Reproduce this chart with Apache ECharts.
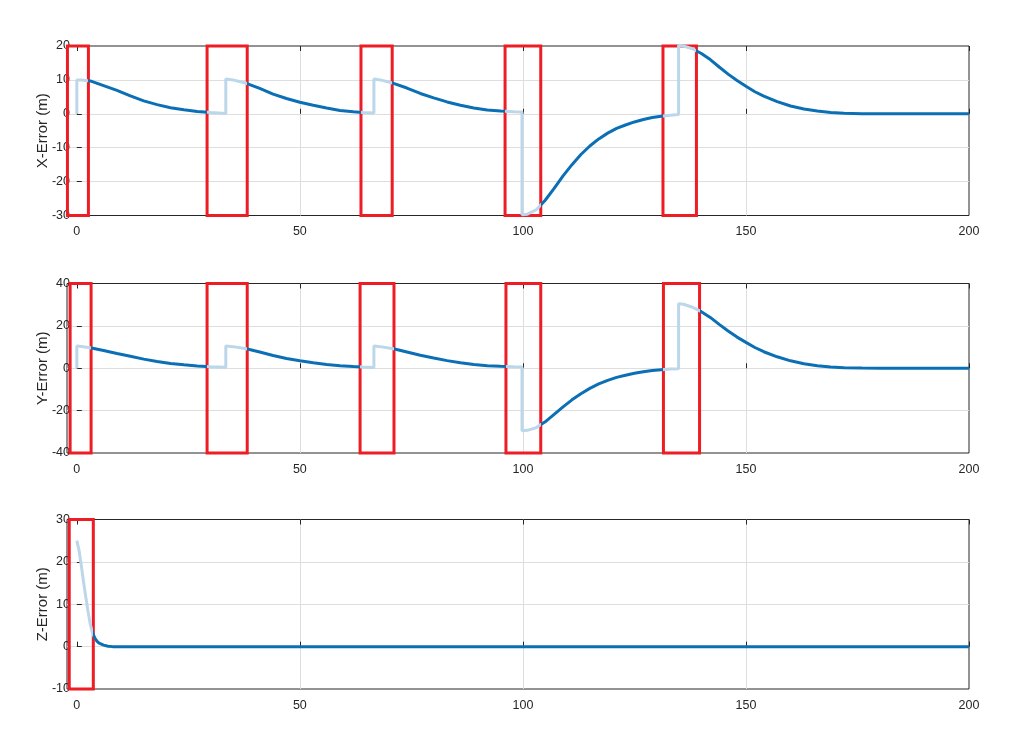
<!DOCTYPE html>
<html>
<head>
<meta charset="utf-8">
<script src="https://cdn.jsdelivr.net/npm/echarts@6/dist/echarts.min.js"></script>
<style>
  html, body { margin: 0; padding: 0; background: #fff; }
  #main { width: 1021px; height: 735px; }
</style>
</head>
<body>
<div id="main"></div>
<script>
// time samples shared by the X and Y error traces (s)
var timeXY = [0, 0, 1, 3, 6, 9, 12, 15, 18, 21, 24, 27, 30, 33.4,
  33.4, 35, 38, 41, 44, 47, 50, 53, 56, 59, 62, 64, 66.6,
  66.6, 68, 71, 74, 77, 80, 83, 86, 89, 92, 95, 98, 99.8,
  99.8, 101, 103, 105, 107, 109, 111, 113, 115, 117, 119, 121, 123, 125, 127, 129, 131, 133, 134.9,
  134.9, 136, 138, 140, 142, 144, 146, 148, 150, 152, 154, 157, 160, 163, 166, 169, 172, 176, 180, 200];

var errX = [0, 10, 10, 9.7, 8.3, 6.9, 5.3, 3.8, 2.7, 1.8, 1.2, 0.7, 0.35, 0.1,
  10.3, 10, 9, 7.5, 5.8, 4.5, 3.4, 2.5, 1.7, 1, 0.6, 0.4, 0.2,
  10.3, 10, 9, 7.6, 6, 4.7, 3.5, 2.5, 1.7, 1.1, 0.8, 0.6, 0.5,
  -29.8, -29.6, -28.3, -25.5, -22, -18.3, -15, -12, -9.5, -7.4, -5.7, -4.3, -3.3, -2.4, -1.7, -1.1, -0.7, -0.4, -0.2,
  20.2, 20, 19.2, 17.8, 16, 13.8, 11.7, 9.8, 8.1, 6.5, 5.2, 3.6, 2.3, 1.4, 0.8, 0.4, 0.15, 0.05, 0, 0];

var errY = [0, 10.5, 10.3, 9.7, 8.4, 7, 5.7, 4.3, 3.2, 2.2, 1.6, 1.1, 0.7, 0.5,
  10.5, 10.2, 9.2, 7.7, 6, 4.6, 3.5, 2.6, 1.8, 1.2, 0.8, 0.6, 0.4,
  10.5, 10.2, 9.2, 7.7, 6.1, 4.8, 3.6, 2.6, 1.8, 1.2, 0.9, 0.7, 0.6,
  -29.5, -29.3, -28, -25.3, -21.8, -18.2, -14.9, -12, -9.5, -7.4, -5.7, -4.3, -3.3, -2.4, -1.7, -1.1, -0.7, -0.4, -0.2,
  30.4, 30.2, 28.8, 26.7, 24, 20.7, 17.6, 14.7, 12.2, 9.8, 7.8, 5.4, 3.5, 2.1, 1.2, 0.6, 0.25, 0.1, 0, 0];

var timeZ = [0, 0.5, 1, 1.5, 2, 2.5, 3, 3.5, 4, 4.5, 5, 6, 7, 8, 10, 200];
var errZ = [25, 22.7, 19.2, 15.3, 11.8, 8.4, 5.4, 3.3, 2.1, 1.3, 0.8, 0.35, 0.1, 0, 0, 0];

// red highlight boxes, [start, end] in seconds, per panel
var boxesX = [[-2.1, 2.6], [29.2, 38.2], [63.7, 70.7], [96.0, 104.0], [131.4, 138.9]];
var boxesY = [[-1.5, 3.2], [29.2, 38.2], [63.5, 71.1], [96.2, 104.0], [131.5, 139.6]];
var boxesZ = [[-1.7, 3.7]];

var xTicks = [0, 50, 100, 150, 200];
var names = ['X-Error (m)', 'Y-Error (m)', 'Z-Error (m)'];
var yRanges = [[-30, 20, 10], [-40, 40, 20], [-10, 30, 10]];

var dark = '#0b6fb5';
var light = '#bcd6ea';
var txt = '#262626';
var font = 'Liberation Sans';

var myChart = echarts.init(document.getElementById('main'));

function pairs(t, v) {
    return t.map(function (x, i) { return [x, v[i]]; });
}

function pieces(boxes) {
    var out = [];
    boxes.forEach(function (b, i) {
        out.push({ gte: b[0], lte: b[1], color: light });
        var next = i + 1 < boxes.length ? boxes[i + 1][0] : null;
        if (next === null) out.push({ gt: b[1], color: dark });
        else out.push({ gt: b[1], lt: next, color: dark });
    });
    return out;
}

var tops = [46, 283.5, 519.5];
var grids = [], xAxes = [], yAxes = [], series = [], maps = [];
var allBoxes = [boxesX, boxesY, boxesZ];
var allData = [pairs(timeXY, errX), pairs(timeXY, errY), pairs(timeZ, errZ)];

for (var i = 0; i < 3; i++) {
    grids.push({
        left: 67, right: 52, top: tops[i], height: 169.5,
        show: true, borderColor: txt, borderWidth: 1, backgroundColor: 'transparent'
    });
    // bottom axis with labels
    xAxes.push({
        type: 'value', gridIndex: i, min: -2.2, max: 200, position: 'bottom',
        axisLine: { show: false },
        axisTick: { inside: true, length: 5, customValues: xTicks, lineStyle: { color: txt } },
        axisLabel: { customValues: xTicks, color: txt, fontFamily: font, fontSize: 12.5, margin: 10 },
        splitLine: { show: true, showMinLine: false, showMaxLine: false, lineStyle: { color: '#dedede', width: 1 } }
    });
    // top axis, ticks only
    xAxes.push({
        type: 'value', gridIndex: i, min: -2.2, max: 200, position: 'top',
        axisLine: { show: false },
        axisTick: { inside: true, length: 5, customValues: xTicks, lineStyle: { color: txt } },
        axisLabel: { show: false },
        splitLine: { show: false }
    });
    yAxes.push({
        type: 'value', gridIndex: i, min: yRanges[i][0], max: yRanges[i][1], interval: yRanges[i][2],
        name: names[i], nameLocation: 'middle', nameGap: 17, nameMoveOverlap: false,
        nameTextStyle: { color: txt, fontFamily: font, fontSize: 15 },
        axisLine: { show: false },
        axisTick: { show: true, inside: true, length: 5, lineStyle: { color: txt } },
        axisLabel: { color: txt, fontFamily: font, fontSize: 12.5, margin: -3 },
        splitLine: { show: true, showMinLine: false, showMaxLine: false, lineStyle: { color: '#dedede', width: 1 } }
    });
    var lo = yRanges[i][0], hi = yRanges[i][1];
    series.push({
        type: 'line', xAxisIndex: i * 2, yAxisIndex: i,
        data: allData[i], showSymbol: false, symbol: 'none', clip: false,
        lineStyle: { width: 3 },
        markArea: {
            silent: true,
            itemStyle: { color: 'rgba(0,0,0,0)', borderColor: '#ee1d25', borderWidth: 3 },
            label: { show: false },
            data: allBoxes[i].map(function (b) {
                return [{ xAxis: b[0], yAxis: lo }, { xAxis: b[1], yAxis: hi }];
            })
        }
    });
    maps.push({
        type: 'piecewise', show: false, dimension: 0, seriesIndex: i,
        pieces: pieces(allBoxes[i])
    });
}

var option = {
    animation: false,
    backgroundColor: '#fff',
    grid: grids,
    xAxis: xAxes,
    yAxis: yAxes,
    visualMap: maps,
    series: series
};

myChart.setOption(option);
</script>
</body>
</html>
